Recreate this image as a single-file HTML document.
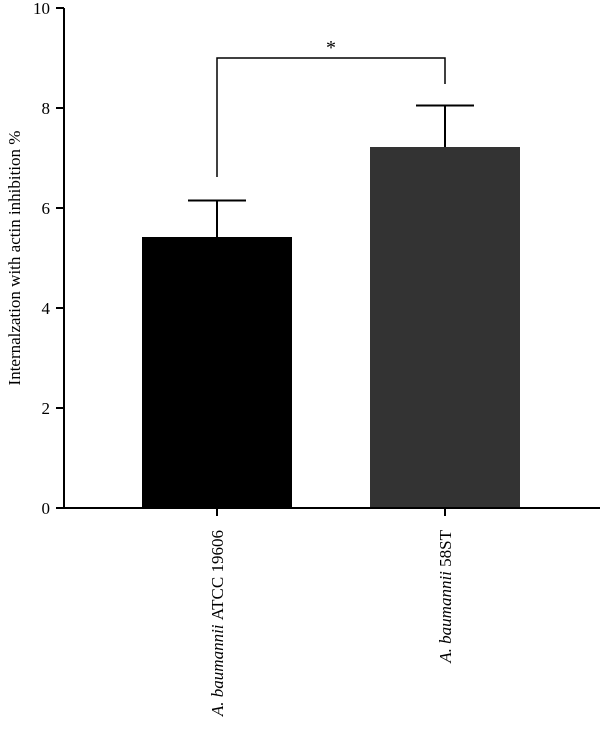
<!DOCTYPE html>
<html><head><meta charset="utf-8"><style>
html,body{margin:0;padding:0;background:#fff;}
svg{display:block;font-family:"Liberation Serif",serif;}
</style></head><body>
<svg id="chart" width="600" height="756" viewBox="0 0 600 756" xmlns="http://www.w3.org/2000/svg"></svg>
<script>
const categories = ["ATCC 19606", "58ST"];
const values = [5.42, 7.22];
const errors = [0.73, 0.83];
const yTicks = [0, 2, 4, 6, 8, 10];
const colors = ["#000000", "#333333"];

const NS = "http://www.w3.org/2000/svg";
const svg = document.getElementById("chart");
const x0 = 64, y0 = 508, yTop = 8;
const y = v => y0 - (v / 10) * (y0 - yTop);
const centers = [217, 445];
const barW = 150;
function el(tag, attrs, parent) {
  const e = document.createElementNS(NS, tag);
  for (const k in attrs) e.setAttribute(k, attrs[k]);
  (parent || svg).appendChild(e);
  return e;
}
// bars
values.forEach((v, i) => {
  const b = el("rect", {x: centers[i] - barW / 2, y: y(v), width: barW, height: y0 - y(v), fill: colors[i]});
  
  
  const top = y(v + errors[i]);
  const e1 = el("path", {d: `M${centers[i]} ${y(v)} V${top} M${centers[i] - 29} ${top} H${centers[i] + 29}`, stroke: "#000", "stroke-width": 2, fill: "none"});
  
  
});
// axes
const ax = el("path", {d: `M${x0} ${yTop} V${y0} H600`, stroke: "#000", "stroke-width": 2, fill: "none"});


yTicks.forEach(t => {
  const tk = el("line", {x1: x0 - 8, x2: x0, y1: y(t), y2: y(t), stroke: "#000", "stroke-width": 2});
  
  
  const lb = el("text", {x: x0 - 14, y: y(t) + 6, "text-anchor": "end", "font-size": 17});
  lb.textContent = t;
  
  
});
categories.forEach((c, i) => {
  const tk = el("line", {x1: centers[i], x2: centers[i], y1: y0, y2: y0 + 8, stroke: "#000", "stroke-width": 2});
  
  
  const lb = el("text", {transform: `translate(${centers[i] + 6},${y0 + 22}) rotate(-90)`, "text-anchor": "end", "font-size": 17});
  
  
  const it = el("tspan", {"font-style": "italic"}, lb);
  it.textContent = "A. baumannii ";
  const rest = el("tspan", {}, lb);
  rest.textContent = c;
});
// y title
const yt = el("text", {transform: `translate(20,${y(5)}) rotate(-90)`, "text-anchor": "middle", "font-size": 17});
yt.textContent = "Internalzation with actin inhibition %";


// significance bracket
const br = el("path", {d: `M${centers[0]} 177 V58 H${centers[1]} V84`, stroke: "#000", "stroke-width": 1.5, fill: "none"});


const st = el("text", {x: (centers[0] + centers[1]) / 2, y: 54, "text-anchor": "middle", "font-size": 20});
st.textContent = "*";


</script>
</body></html>
